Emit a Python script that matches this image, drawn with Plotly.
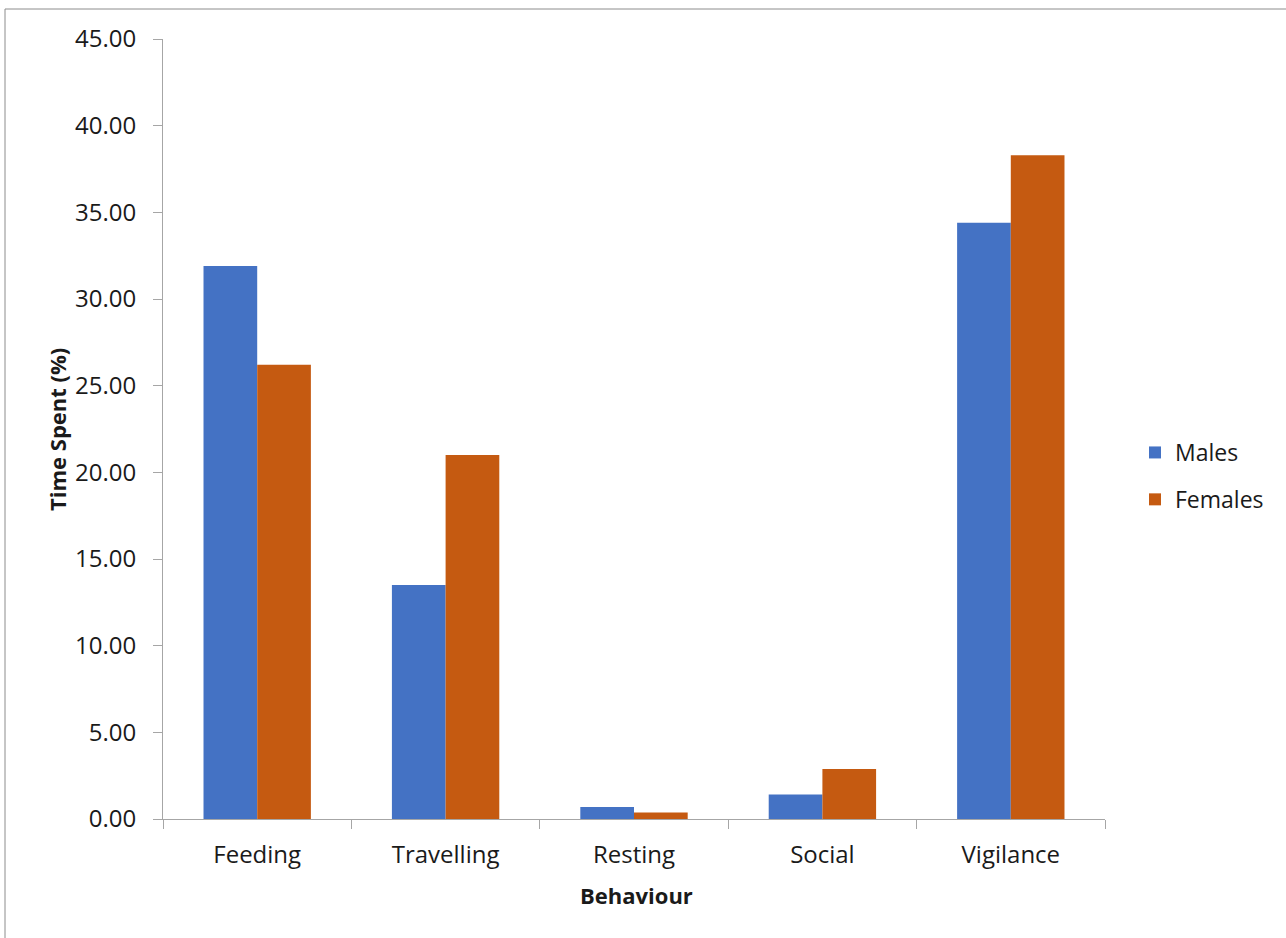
import plotly.graph_objects as go

# Share of observation time per behaviour, by sex
behaviours = ["Feeding", "Travelling", "Resting", "Social", "Vigilance"]
males = [31.9, 13.5, 0.69, 1.41, 34.4]
females = [26.2, 21.0, 0.38, 2.89, 38.3]
y_ticks = [0, 5, 10, 15, 20, 25, 30, 35, 40, 45]

W, H = 1286, 938
L, R, T, B = 163, 181, 39, 119
FONT = "Open Sans"
TXT = "#1a1a1a"
AX = "#a6a6a6"

fig = go.Figure()
fig.add_trace(go.Bar(x=behaviours, y=males, name="Males", legendgroup="m",
                     marker=dict(color="#4472C4", line=dict(width=0))))
fig.add_trace(go.Bar(x=behaviours, y=females, name="Females", legendgroup="f",
                     marker=dict(color="#C55A11", line=dict(width=0))))

pw = W - L - R
ph = H - T - B

fig.update_layout(
    width=W, height=H,
    margin=dict(l=L, r=R, t=T, b=B),
    paper_bgcolor="white", plot_bgcolor="white",
    barmode="group", bargap=0.43, bargroupgap=0,
    font=dict(family=FONT, size=24, color=TXT),
    showlegend=True,
    legend=dict(x=(1135 - L) / pw, xanchor="left", y=(H - B - 476) / ph, yanchor="middle",
                font=dict(size=23, color=TXT), tracegroupgap=14,
                bgcolor="rgba(0,0,0,0)"),
    xaxis=dict(showline=True, linecolor=AX, linewidth=1, ticks="outside",
               tickson="boundaries", ticklen=9, tickcolor=AX,
               ticklabelstandoff=14,
               showgrid=False, tickfont=dict(size=24, color=TXT)),
    yaxis=dict(range=[0, 45], tickvals=y_ticks, tickformat=".2f",
               showline=True, linecolor=AX, linewidth=1, ticks="outside",
               ticklen=9, tickcolor=AX, ticklabelstandoff=12,
               showgrid=False, zeroline=False,
               tickfont=dict(size=24, color=TXT)),
    annotations=[
        dict(text="<b>Time Spent (%)</b>", textangle=-90, xref="paper", yref="paper",
             x=(57 - L) / pw, y=(H - B - 430) / ph, showarrow=False,
             font=dict(size=22, color=TXT), xanchor="center", yanchor="middle"),
        dict(text="<b>Behaviour</b>", xref="paper", yref="paper",
             x=(636 - L) / pw, y=(H - B - 895) / ph, showarrow=False,
             font=dict(size=22, color=TXT), xanchor="center", yanchor="middle"),
    ],
    shapes=[
        dict(type="rect", xref="paper", yref="paper",
             x0=(5 - L) / pw, x1=(1300 - L) / pw,
             y0=(H - B - 950) / ph, y1=(H - B - 9) / ph,
             line=dict(color="#8c8c8c", width=1), fillcolor="rgba(0,0,0,0)",
             layer="below"),
    ],
)

fig.write_html("out.html")
